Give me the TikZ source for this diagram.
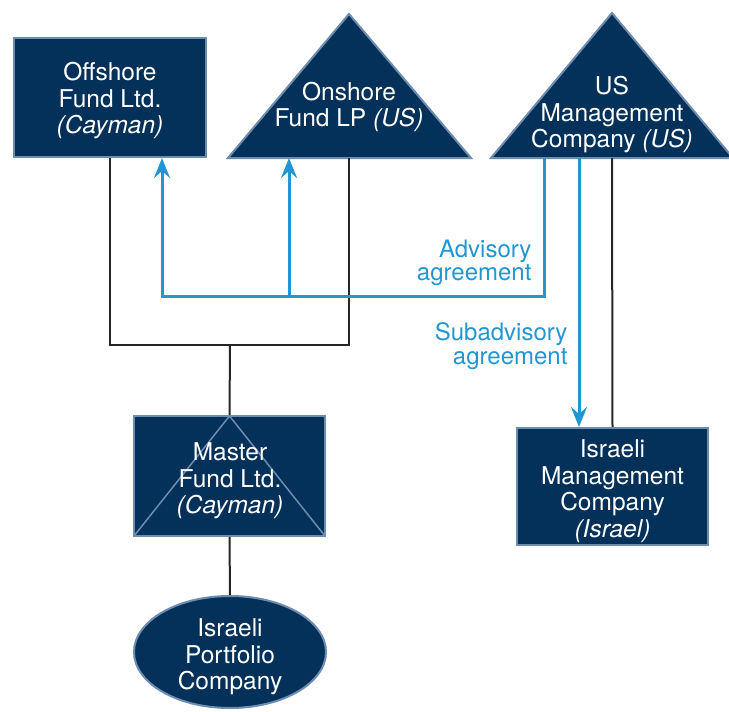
\documentclass[tikz,border=0pt]{standalone}
\usepackage{fontspec}
\setmainfont{TeX Gyre Heros}
\usetikzlibrary{shapes.geometric,arrows.meta,positioning,calc}
\definecolor{navy}{RGB}{4,49,89}
\definecolor{edgeblue}{RGB}{108,140,176}
\definecolor{linkblue}{RGB}{34,150,211}

\tikzset{
  entity/.style={fill=navy, draw=edgeblue, line width=2pt},
  txt/.style={text=white, align=center, font=\fontsize{24.5}{26.5}\selectfont},
  own/.style={line width=2pt, black!85},
  advise/.style={line width=3pt, linkblue, -{Stealth[length=20pt,width=16pt,inset=7pt]}},
  agreetext/.style={text=linkblue, align=right, anchor=east, font=\fontsize{24}{23.5}\selectfont}
}

\begin{document}
\begin{tikzpicture}[x=1pt, y=-1pt]
    \useasboundingbox (0,0) rectangle (729,712);

    % Offshore fund (box)
    \node [entity, minimum width=192pt, minimum height=119pt] (offshore) at (110,97.5) {};
    \node [txt] (offshoretext) at (110,101) {Offshore\\Fund Ltd.\\\textit{(Cayman)}};

    % Onshore fund (triangle)
    \draw [entity] (228,158) -- (349,14) -- (471,158) -- cycle;
    \node [txt] (onshore) at (349,107) {Onshore\\Fund LP \textit{(US)}};
    \coordinate (onshoreA) at (289,158);
    \coordinate (onshoreB) at (349,158);

    % US management company (triangle)
    \draw [entity] (491,158) -- (612,13) -- (733,158) -- cycle;
    \node [txt] (usmgmt) at (612,115) {US\\Management\\Company \textit{(US)}};
    \coordinate (usA) at (544,158);
    \coordinate (usB) at (579,158);
    \coordinate (usC) at (612,158);

    % Master fund (box with triangle)
    \node [entity, minimum width=191pt, minimum height=120pt,
           path picture={\draw [edgeblue, line width=1.5pt]
             (path picture bounding box.south west) -- (path picture bounding box.north)
             -- (path picture bounding box.south east);}] (master) at (229.5,476) {};
    \node [txt] (mastertext) at (230,481) {Master\\Fund Ltd.\\\textit{(Cayman)}};

    % Portfolio company (ellipse)
    \node [entity, ellipse, minimum width=192pt, minimum height=112pt] (portfolio) at (230,652) {};
    \node [txt] (portfoliotext) at (230,657) {Israeli\\Portfolio\\Company};

    % Israeli management company (box)
    \node [entity, minimum width=191pt, minimum height=117pt] (israeli) at (612.5,486.5) {};
    \node [txt] (israelitext) at (612.5,491) {Israeli\\Management\\Company\\\textit{(Israel)}};

    % Ownership lines
    \coordinate (join) at (230,345);
    \draw [own] (offshore.south) |- (join);
    \draw [own] (onshoreB) |- (join);
    \draw [own] (join) -- (master.north);
    \draw [own] (master.south) -- (portfolio.north);
    \draw [own] (usC) -- (israeli.north);

    % Advisory agreement
    \coordinate (advL) at (162,296);
    \coordinate (advM) at (289,296);
    \draw [advise] (usA) |- (advL) -- (offshore.south -| advL);
    \draw [advise] (advM) -- (onshoreA);
    \node [agreetext] (advtext) at (535,263) {Advisory\\agreement};

    % Subadvisory agreement
    \draw [advise] (usB) -- (israeli.north -| usB);
    \node [agreetext] (subtext) at (571,346) {Subadvisory\\agreement};
\end{tikzpicture}
\end{document}
